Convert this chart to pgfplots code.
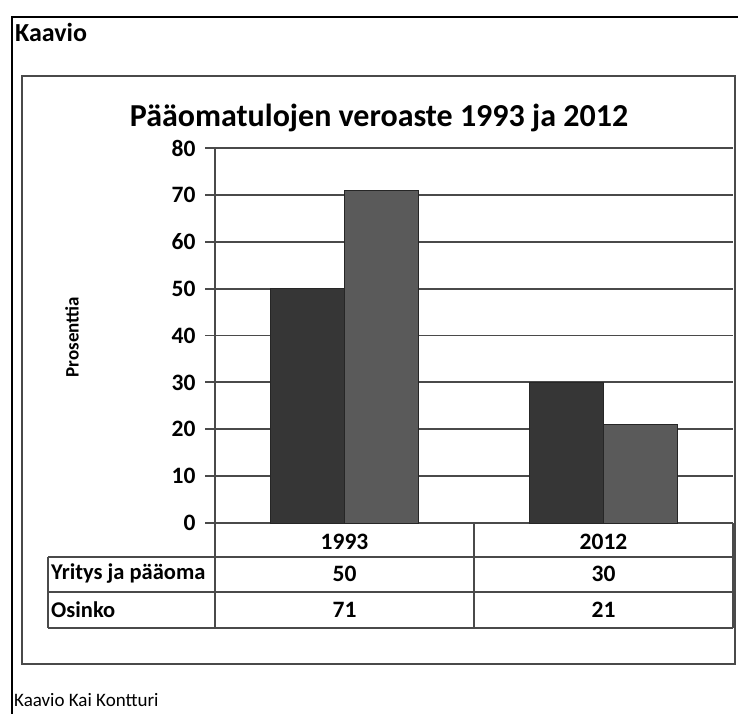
\documentclass[border=0pt]{standalone}
\usepackage{pgfplots}
\pgfplotsset{compat=1.18}
\usepackage{fontspec}
\setmainfont{Carlito}
\definecolor{barA}{HTML}{363636}
\definecolor{barB}{HTML}{5A5A5A}
\definecolor{lineC}{HTML}{4A4A4A}
\begin{document}
\begin{tikzpicture}[x=1pt,y=1pt]
% outer frame
\draw[black, line width=2pt] (12,-10) -- (12,696) -- (750,696);
\node[anchor=west, font=\fontsize{26}{28}\selectfont\bfseries, inner sep=0pt] at (15,681) {Kaavio};
\draw[lineC, line width=1.8pt] (22,49) rectangle (735,637);
\node[font=\fontsize{32}{36}\selectfont\bfseries] at (379,595) {Pääomatulojen veroaste 1993 ja 2012};
\node[rotate=90, font=\fontsize{19}{22}\selectfont\bfseries] at (72,376) {Prosenttia};
\begin{axis}[
  at={(215pt,190pt)}, anchor=south west,
  width=518pt, height=375pt, scale only axis,
  xmin=0.5, xmax=2.5, ymin=0, ymax=80,
  ytick={0,10,...,80},
  xtick={1,2}, xticklabels={1993,2012},
  axis x line*=bottom, axis y line*=left,
  axis line style={lineC, line width=1.8pt},
  ybar=0pt, bar width=74pt,
  ymajorgrids, major grid style={lineC, line width=1.8pt},
  tick align=outside, major tick length=10pt,
  ytick style={lineC, line width=1.8pt},
  xtick style={draw=none},
  /pgf/number format/assume math mode=true,
  ticklabel style={font=\fontsize{23.5}{26}\selectfont\bfseries},
  yticklabel style={xshift=-6pt},
  xticklabel style={anchor=center, yshift=-9pt},
]
\addplot[fill=barA, draw=black!85, line width=0.6pt] coordinates {(1,50) (2,30)};
\addplot[fill=barB, draw=black!85, line width=0.6pt] coordinates {(1,71) (2,21)};
\end{axis}
% data table
\begin{scope}[lineC, line width=1.8pt]
\draw (215,565) -- (215,85);
\draw (48,156) -- (733,156);
\draw (48,121) -- (733,121);
\draw (48,85) -- (733,85);
\draw (48,156) -- (48,85);
\draw (474,190) -- (474,85);
\draw (733,190) -- (733,85);
\end{scope}
\begin{scope}[font=\fontsize{23.5}{26}\selectfont\bfseries]
\node[anchor=west, inner sep=0pt, font=\fontsize{22.5}{25}\selectfont\bfseries] at (51,139) {Yritys ja pääoma};
\node[anchor=west, inner sep=0pt, font=\fontsize{22.5}{25}\selectfont\bfseries] at (51,103) {Osinko};
\node at (344.5,139) {50};
\node at (603.5,139) {30};
\node at (344.5,103) {71};
\node at (603.5,103) {21};
\end{scope}
\node[anchor=west, inner sep=0pt, font=\fontsize{19}{21}\selectfont] at (14,13) {Kaavio Kai Kontturi};
\pgfresetboundingbox
\path (0,0) rectangle (738,713);
\end{tikzpicture}
\end{document}
